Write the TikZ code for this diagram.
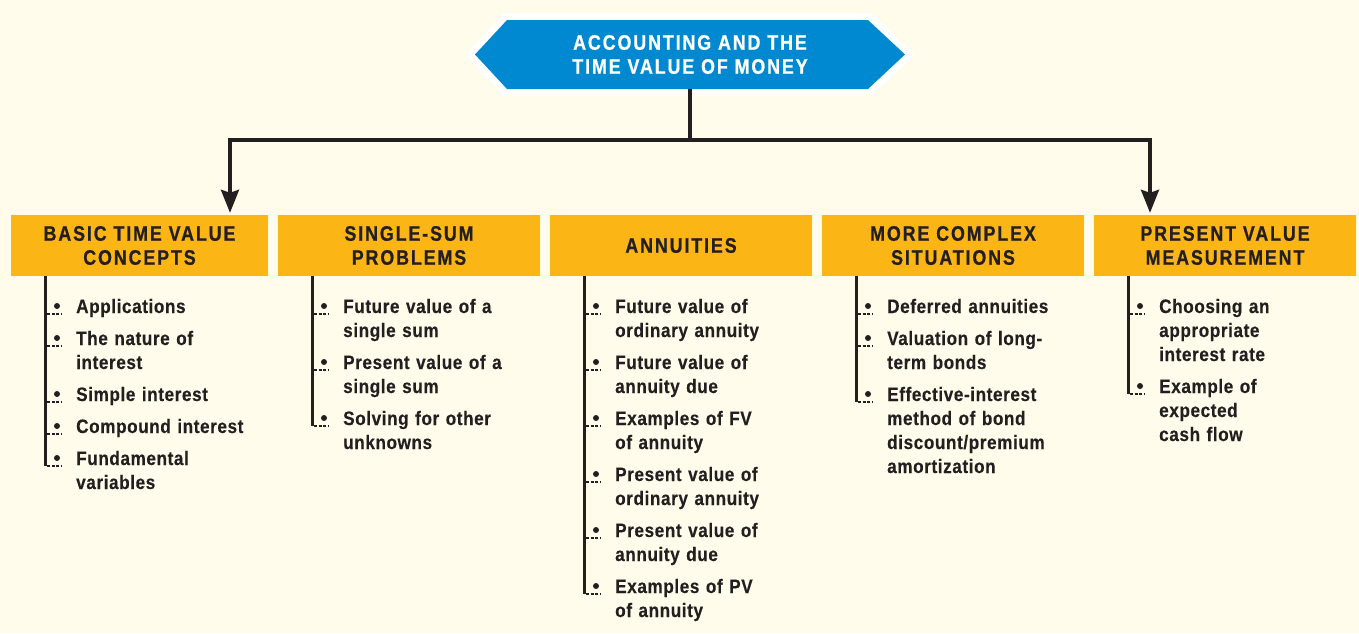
\documentclass[tikz,border=0pt]{standalone}
\usepackage{fontspec}
\setmainfont{Liberation Sans}
\newfontfamily\headfont{Liberation Sans}[FakeStretch=0.85,LetterSpace=9,FakeBold=0.8]
\newfontfamily\itemfont{Liberation Sans}[FakeStretch=0.88,LetterSpace=3,FakeBold=0.3]
\usetikzlibrary{arrows.meta}
\definecolor{cream}{HTML}{FFFCEB}
\definecolor{gold}{HTML}{FBB616}
\definecolor{sky}{HTML}{0089D0}
\definecolor{ink}{HTML}{231F20}

\begin{document}
\begin{tikzpicture}[x=1pt,y=-1pt,
        head/.style={
        rectangle, fill=gold, text=ink,
        inner sep=0pt, minimum width=262pt, minimum height=61pt,
        align=center, font=\headfont\bfseries\fontsize{21}{24}\selectfont},
        item/.style={
        anchor=base west, inner sep=0pt, text=ink, text width=200pt,
        align=left, font=\itemfont\bfseries\fontsize{19.5}{24}\selectfont},
        link/.style={draw=ink, line width=3.5pt,
        -{Stealth[length=23pt,width=18pt,inset=3pt]}, shorten >=2pt},
        bar/.style={draw=ink, line width=3pt},
        tick/.style={draw=ink, line width=1.2pt, dash pattern=on 3pt off 1.5pt},
        ]

        \fill[cream] (0,0) rectangle (1359,633);
        \useasboundingbox (0,0) rectangle (1359,633);

        % title
        \path[fill=sky, preaction={draw=white, line width=14pt}]
            (475,54.5) -- (507,20) -- (868,20) -- (905,54.5) -- (868,89) -- (507,89) -- cycle;
        \node (topic) [head, fill=none, text=white, minimum width=430pt, minimum height=69pt]
            at (690,54.5) {ACCOUNTING AND THE\\TIME VALUE OF MONEY};

        % headings
        \node (basic) [head, minimum width=257pt] at (139.5,245.5) {BASIC TIME VALUE\\CONCEPTS};
        \node (single) [head] at (409,245.5) {SINGLE-SUM\\PROBLEMS};
        \node (annuity) [head] at (681,245.5) {ANNUITIES};
        \node (complex) [head] at (953,245.5) {MORE COMPLEX\\SITUATIONS};
        \node (measure) [head] at (1225,245.5) {PRESENT VALUE\\MEASUREMENT};

        \draw[link] (topic.south) -- ++(0,51) -| ([xshift=90.5pt]basic.north);
        \draw[link] (topic.south) -- ++(0,51) -| ([xshift=-75pt]measure.north);

        % items
        \node (ba1) [item] at (76,313) {Applications};
        \node (ba2) [item] at (76,345) {The nature of\\interest};
        \node (ba3) [item] at (76,401) {Simple interest};
        \node (ba4) [item] at (76,433) {Compound interest};
        \node (ba5) [item] at (76,465) {Fundamental\\variables};

        \node (si1) [item] at (343,313) {Future value of a\\single sum};
        \node (si2) [item] at (343,369) {Present value of a\\single sum};
        \node (si3) [item] at (343,425) {Solving for other\\unknowns};

        \node (an1) [item] at (615,313) {Future value of\\ordinary annuity};
        \node (an2) [item] at (615,369) {Future value of\\annuity due};
        \node (an3) [item] at (615,425) {Examples of FV\\of annuity};
        \node (an4) [item] at (615,481) {Present value of\\ordinary annuity};
        \node (an5) [item] at (615,537) {Present value of\\annuity due};
        \node (an6) [item] at (615,593) {Examples of PV\\of annuity};

        \node (mc1) [item] at (887,313) {Deferred annuities};
        \node (mc2) [item] at (887,345) {Valuation of long-\\term bonds};
        \node (mc3) [item] at (887,401) {Effective-interest\\method of bond\\discount/premium\\amortization};

        \node (pv1) [item] at (1159,313) {Choosing an\\appropriate\\interest rate};
        \node (pv2) [item] at (1159,393) {Example of\\expected\\cash flow};

        % bars down from the headings
        \draw[bar] ([xshift=34.5pt]basic.south west) -- ++(0,190);
        \draw[bar] ([xshift=35pt]single.south west) -- ++(0,150);
        \draw[bar] ([xshift=35pt]annuity.south west) -- ++(0,318);
        \draw[bar] ([xshift=35pt]complex.south west) -- ++(0,126);
        \draw[bar] ([xshift=35pt]measure.south west) -- ++(0,118);

        \foreach \n in {ba1,ba2,ba3,ba4,ba5,si1,si2,si3,an1,an2,an3,an4,an5,an6,mc1,mc2,mc3,pv1,pv2} {
            \fill[ink] (\n.base west) ++(-19,-7) circle (3);
            \draw[tick] (\n.base west) ++(-29,1) -- ++(14,0);
        }
    \end{tikzpicture}
\end{document}
